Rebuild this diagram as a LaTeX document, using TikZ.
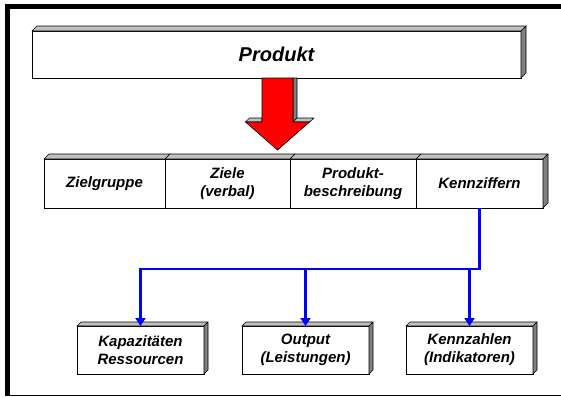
\documentclass[tikz,border=0pt]{standalone}
\usepackage{fontspec}
\setmainfont{Liberation Sans}
\usetikzlibrary{arrows.meta,calc}
\definecolor{topgray}{HTML}{C0C0C0}
\definecolor{sidegray}{HTML}{808080}
\definecolor{linkblue}{HTML}{0000FF}
\definecolor{arrowred}{HTML}{FF0000}
\newcommand\topfacedraw[2]{\filldraw[topface] (#1.north west) -- ++(#2,-#2) -- ($(#1.north east)+(#2,-#2)$) -- (#1.north east) -- cycle;}
\newcommand\sidefacedraw[2]{\filldraw[sideface] (#1.north east) -- ++(#2,-#2) -- ($(#1.south east)+(#2,-#2)$) -- (#1.south east) -- cycle;}
\begin{document}
\begin{tikzpicture}[x=1pt,y=-1pt,
  front/.style={draw=black,line width=0.8pt,fill=white,inner sep=0pt,outer sep=0pt,align=center,
    font=\fontsize{15}{18}\selectfont\bfseries\itshape},
  topface/.style={fill=topgray,draw=black,line width=0.6pt,line join=round},
  sideface/.style={fill=sidegray,draw=black,line width=0.6pt,line join=round},
  link/.style={draw=linkblue,line width=2.6pt,line join=miter},
  tip/.style={-{Triangle[width=10pt,length=8pt]}},
  ]
\useasboundingbox (0,0) rectangle (561,397);
% frame
\fill[black] (5,4) rectangle (561,9);
\fill[black] (5,4) rectangle (10,396);
\fill[black] (5,394.5) rectangle (561,396);

% top box
\node[front, minimum width=489pt, minimum height=47pt, font=\fontsize{20}{24}\selectfont\bfseries\itshape] (prod) at (276.5,54.5) {Produkt};
\topfacedraw{prod}{5}
\sidefacedraw{prod}{5}

% red 3D arrow
\filldraw[sideface] (293,78) -- (297,78) -- (297,118) -- (293,122) -- cycle;
\filldraw[topface] (293,122) -- (297,118) -- (314,118) -- (309.5,122) -- cycle;
\filldraw[topface] (245.5,122) -- (249.5,118) -- (262,118) -- (262,122) -- cycle;
\filldraw[fill=arrowred,draw=black,line width=0.6pt] (262,78) -- (293,78) -- (293,122) -- (309.5,122) -- (277.5,150) -- (245.5,122) -- (262,122) -- cycle;

% row of four boxes
\node[front, minimum width=121pt, minimum height=49pt] (ziel) at (104.5,183.5) {Zielgruppe};
\node[front, minimum width=125pt, minimum height=49pt] (verb) at (227.5,183.5) {Ziele\\(verbal)};
\node[front, minimum width=126pt, minimum height=49pt] (besc) at (353,183.5) {Produkt-\\beschreibung};
\node[front, minimum width=127pt, minimum height=49pt] (kenn) at (479.5,183.5) {Kennziffern};
\foreach \n in {ziel,verb,besc,kenn} {\topfacedraw{\n}{5}}
\sidefacedraw{kenn}{5}

% bottom boxes
\node[front, minimum width=127pt, minimum height=48pt] (kap) at (140.5,350) {Kapazitäten\\Ressourcen};
\node[front, minimum width=127pt, minimum height=48pt] (out) at (305.5,350) {Output\\(Leistungen)};
\node[front, minimum width=127pt, minimum height=48pt] (ind) at (469.5,350) {Kennzahlen\\(Indikatoren)};
\foreach \n in {kap,out,ind} {\topfacedraw{\n}{4}\sidefacedraw{\n}{4}}

% blue connectors
\coordinate (J) at ($(kenn.south)+(0,61)$);
\draw[link,tip] (kenn.south) -- (J) -| (kap.north);
\draw[link,tip] (J -| out.north) -- (out.north);
\draw[link,tip] (J -| ind.north) -- (ind.north);
\end{tikzpicture}
\end{document}
